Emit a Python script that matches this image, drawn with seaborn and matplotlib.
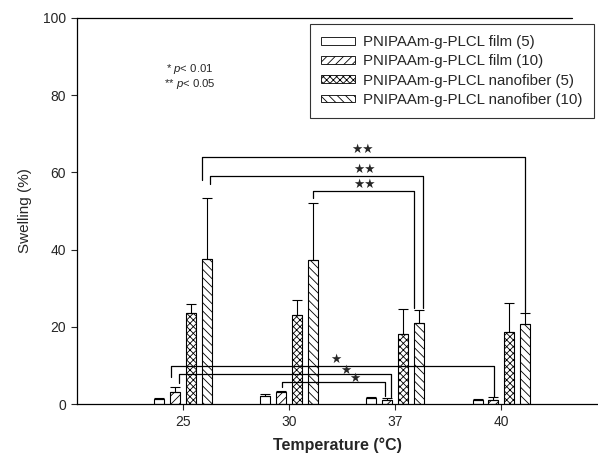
import numpy as np
import pandas as pd
import matplotlib
matplotlib.use("Agg")
import matplotlib.pyplot as plt
import seaborn as sns
from matplotlib.patches import Patch

# data
temps = ["25", "30", "37", "40"]
groups = ["PNIPAAm-g-PLCL film (5)", "PNIPAAm-g-PLCL film (10)",
          "PNIPAAm-g-PLCL nanofiber (5)", "PNIPAAm-g-PLCL nanofiber (10)"]
film5 = [1.3, 2.2, 1.5, 1.0]
film5_err = [0.3, 0.4, 0.3, 0.4]
film10 = [3.2, 3.0, 1.0, 1.1]
film10_err = [1.1, 0.4, 0.6, 0.6]
nano5 = [23.5, 23.0, 18.1, 18.7]
nano5_err = [2.4, 3.9, 6.4, 7.5]
nano10 = [37.6, 37.3, 21.1, 20.8]
nano10_err = [15.8, 14.9, 3.2, 2.9]
hatches = ["", "////", "xxxxx", "\\\\\\\\"]

# significance brackets: x left, y left end, x right, y right end, y top, star x, star y, label
br_xl = [0.18, 0.25, 1.22, -0.11, -0.04, 0.93]
br_yl = [58.0, 57.0, 53.4, 7.0, 5.4, 4.5]
br_xr = [3.22, 2.26, 2.18, 2.93, 1.96, 1.90]
br_yr = [23.8, 25.0, 25.0, 1.9, 1.9, 2.0]
br_top = [64.1, 59.0, 55.3, 9.9, 7.7, 5.6]
star_x = [1.69, 1.71, 1.71, 1.44, 1.53, 1.62]
star_y = [65.9, 60.8, 56.9, 11.6, 8.8, 6.5]
star_lbl = ["★★", "★★", "★★", "★", "★", "★"]

sns.set_style("white")
plt.rcParams["font.family"] = ["Liberation Sans", "DejaVu Sans"]
plt.rcParams["mathtext.fontset"] = "custom"
plt.rcParams["mathtext.it"] = "Liberation Sans:italic"
plt.rcParams["mathtext.rm"] = "Liberation Sans"
plt.rcParams["hatch.linewidth"] = 0.6

df = pd.DataFrame({
    "temp": temps * 4,
    "swell": film5 + film10 + nano5 + nano10,
    "err": film5_err + film10_err + nano5_err + nano10_err,
    "group": np.repeat(groups, len(temps)),
})

fig = plt.figure(figsize=(5.98, 4.59), dpi=100)
ax = fig.add_axes([0.1288, 0.1198, 0.8712, 0.841])

sns.barplot(data=df, x="temp", y="swell", hue="group", hue_order=groups,
            palette=["white"] * 4, width=0.6, gap=0.37, edgecolor="black",
            linewidth=0.8, errorbar=None, legend=False, ax=ax)

for cont, h, g in zip(ax.containers, hatches, groups):
    sub = df[df["group"] == g]
    xs = []
    for bar in cont:
        bar.set_hatch(h)
        bar.set_facecolor("white")
        bar.set_edgecolor("black")
        xs.append(bar.get_x() + bar.get_width() / 2)
    ax.errorbar(xs, sub["swell"], yerr=[np.zeros(len(sub)), sub["err"]],
                fmt="none", ecolor="black", elinewidth=0.8, capsize=3.8,
                capthick=0.8)

for i in range(len(br_xl)):
    ax.plot([br_xl[i], br_xl[i], br_xr[i], br_xr[i]],
            [br_yl[i], br_top[i], br_top[i], br_yr[i]],
            color="black", lw=0.9)
    ax.text(star_x[i], star_y[i], star_lbl[i], ha="center", va="center",
            fontsize=9, family=["DejaVu Sans"])

ax.text(0.278, 0.850, "* $p$< 0.01", transform=fig.transFigure, fontsize=8.2,
        va="center")
ax.text(0.274, 0.816, "** $p$< 0.05", transform=fig.transFigure, fontsize=8.2,
        va="center")

ax.set_xlim(-1.0, 3.91)
ax.set_ylim(0, 100)
ax.set_yticks([0, 20, 40, 60, 80, 100])
ax.set_xlabel("Temperature (°C)", fontsize=11.5, fontweight="bold", labelpad=6)
ax.set_ylabel("Swelling (%)", fontsize=11, labelpad=8)
ax.tick_params(direction="out", length=4, width=0.8, labelsize=10,
               bottom=True, left=True, pad=4)
for s in ["top", "right"]:
    ax.spines[s].set_visible(False)
for s in ["left", "bottom"]:
    ax.spines[s].set_color("black")
    ax.spines[s].set_linewidth(0.9)
ax.axhline(100, xmin=0, xmax=0.95, color="black", lw=0.9, clip_on=False)

handles = [Patch(facecolor="white", edgecolor="black", hatch=h, lw=0.6)
           for h in hatches]
leg = fig.legend(handles, groups, loc="upper right",
                 bbox_to_anchor=(0.993, 0.948), borderaxespad=0,
                 fontsize=10.8, frameon=True, fancybox=False,
                 edgecolor="black", handlelength=2.25, handleheight=0.4,
                 labelspacing=0.35, borderpad=0.75, handletextpad=0.55)
leg.get_frame().set_linewidth(0.8)

fig.savefig("out.png", dpi=100)
